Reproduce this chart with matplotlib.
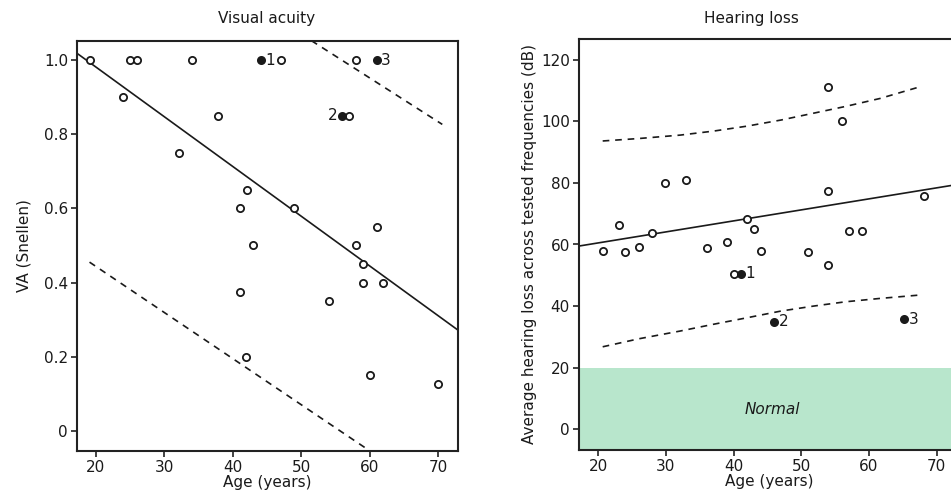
import matplotlib
matplotlib.use('Agg')
import matplotlib.pyplot as plt

plt.rcParams['font.family'] = ['DejaVu Sans']
plt.rcParams['font.size'] = 11

# Visual acuity panel
va_age = [19.1, 25.0, 26.1, 34.0, 47.0, 58.0, 24.0, 37.9, 32.1, 57.0, 42.1, 41.0,
          49.0, 61.0, 43.0, 58.0, 59.0, 59.0, 62.0, 41.0, 54.0, 42.0, 60.0, 70.0]
va = [1.0, 1.0, 1.0, 1.0, 1.0, 1.0, 0.90, 0.85, 0.75, 0.85, 0.65, 0.60,
      0.60, 0.55, 0.50, 0.50, 0.45, 0.40, 0.40, 0.375, 0.35, 0.20, 0.15, 0.125]
va_case_age = [44.1, 55.9, 61.0]
va_case = [1.0, 0.85, 1.0]
case_labels = ['1', '2', '3']
va_fit_x = [17.27, 72.85]
va_fit_y = [1.019, 0.272]
va_hi_x = [51.5, 70.6]
va_hi_y = [1.053, 0.827]
va_lo_x = [19.1, 59.8]
va_lo_y = [0.455, -0.052]

# Hearing loss panel
hl_age = [54.0, 56.0, 29.8, 33.0, 54.0, 68.1, 42.0, 43.0, 23.0, 27.9, 57.0,
          59.0, 39.0, 36.0, 20.7, 24.0, 26.0, 44.0, 51.0, 54.0, 40.0]
hl = [111.2, 100.1, 80.1, 81.0, 77.5, 75.6, 68.2, 65.0, 66.3, 63.8, 64.5,
      64.5, 60.7, 58.8, 58.0, 57.5, 59.1, 58.0, 57.5, 53.4, 50.5]
hl_case_age = [41.1, 46.0, 65.2]
hl_case = [50.5, 34.9, 35.7]
hl_fit_x = [17.15, 73.4]
hl_fit_y = [59.5, 79.6]
# prediction band
hl_band_x = [20.65, 26.0, 32.07, 37.0, 41.93, 47.0, 51.77, 56.5, 61.63, 67.54]
hl_hi_y = [93.6, 94.4, 95.5, 96.8, 98.4, 100.4, 102.6, 104.8, 107.4, 111.2]
hl_lo_y = [26.8, 29.4, 31.9, 34.1, 36.2, 38.4, 40.0, 41.4, 42.5, 43.6]
normal_limit = 20

W, H = 951, 494
fig = plt.figure(figsize=(W / 100, H / 100), dpi=100)
ax1 = fig.add_axes([77 / W, 43 / H, 380.7 / W, 410.3 / H])
ax2 = fig.add_axes([579 / W, 44 / H, 380.7 / W, 411 / H])

ink = '#1a1a1a'
mk = dict(marker='o', ms=5.2, mew=1.3, ls='none', color=ink)


def style(ax):
    for s in ax.spines.values():
        s.set_linewidth(1.5)
        s.set_color('#222222')
    ax.tick_params(direction='out', length=4.5, width=1.2, color='#222222',
                   labelsize=11, labelcolor=ink, pad=2)
    ax.set_xticks([20, 30, 40, 50, 60, 70])
    ax.set_xlabel('Age (years)', fontsize=11, color=ink, labelpad=0)


def dashed(ax, x, y):
    l, = ax.plot(x, y, color=ink, lw=1.2)
    l.set_dashes([4, 3.5])


# left
ax1.plot(va_fit_x, va_fit_y, color=ink, lw=1.2)
dashed(ax1, va_hi_x, va_hi_y)
dashed(ax1, va_lo_x, va_lo_y)
ax1.plot(va_age, va, mfc='white', **mk)
ax1.plot(va_case_age, va_case, mfc=ink, **mk)
for x, y, t in zip(va_case_age, va_case, case_labels):
    if t == '2':
        ax1.annotate(t, (x, y), xytext=(-3, 0), textcoords='offset points',
                     ha='right', va='center', fontsize=11, color=ink)
    else:
        ax1.annotate(t, (x, y), xytext=(3, 0), textcoords='offset points',
                     ha='left', va='center', fontsize=11, color=ink)
ax1.set_xlim(17.27, 72.85)
ax1.set_ylim(-0.055, 1.053)
ax1.set_yticks([0, 0.2, 0.4, 0.6, 0.8, 1.0])
ax1.set_yticklabels(['0', '0.2', '0.4', '0.6', '0.8', '1.0'])
ax1.set_ylabel('VA (Snellen)', fontsize=11, color=ink, labelpad=9)
style(ax1)

# right
ax2.axhspan(-10, normal_limit, color='#b8e6cc', lw=0, zorder=0)
ax2.text(45.7, 6.5, 'Normal', style='italic', ha='center', va='center',
         fontsize=11, color=ink)
ax2.plot(hl_fit_x, hl_fit_y, color=ink, lw=1.2)
dashed(ax2, hl_band_x, hl_hi_y)
dashed(ax2, hl_band_x, hl_lo_y)
ax2.plot(hl_age, hl, mfc='white', **mk)
ax2.plot(hl_case_age, hl_case, mfc=ink, **mk)
for x, y, t in zip(hl_case_age, hl_case, case_labels):
    ax2.annotate(t, (x, y), xytext=(3, 0), textcoords='offset points',
                 ha='left', va='center', fontsize=11, color=ink)
ax2.set_xlim(17.15, 73.4)
ax2.set_ylim(-6.7, 126.7)
ax2.set_yticks([0, 20, 40, 60, 80, 100, 120])
ax2.set_ylabel('Average hearing loss across tested frequencies (dB)',
               fontsize=11, color=ink, labelpad=3)
style(ax2)

fig.text(267 / W, 1 - 19 / H, 'Visual acuity', ha='center', va='center',
         fontsize=11, color=ink)
fig.text(751 / W, 1 - 18 / H, 'Hearing loss', ha='center', va='center',
         fontsize=11, color=ink)

fig.savefig('out.png', dpi=100)
